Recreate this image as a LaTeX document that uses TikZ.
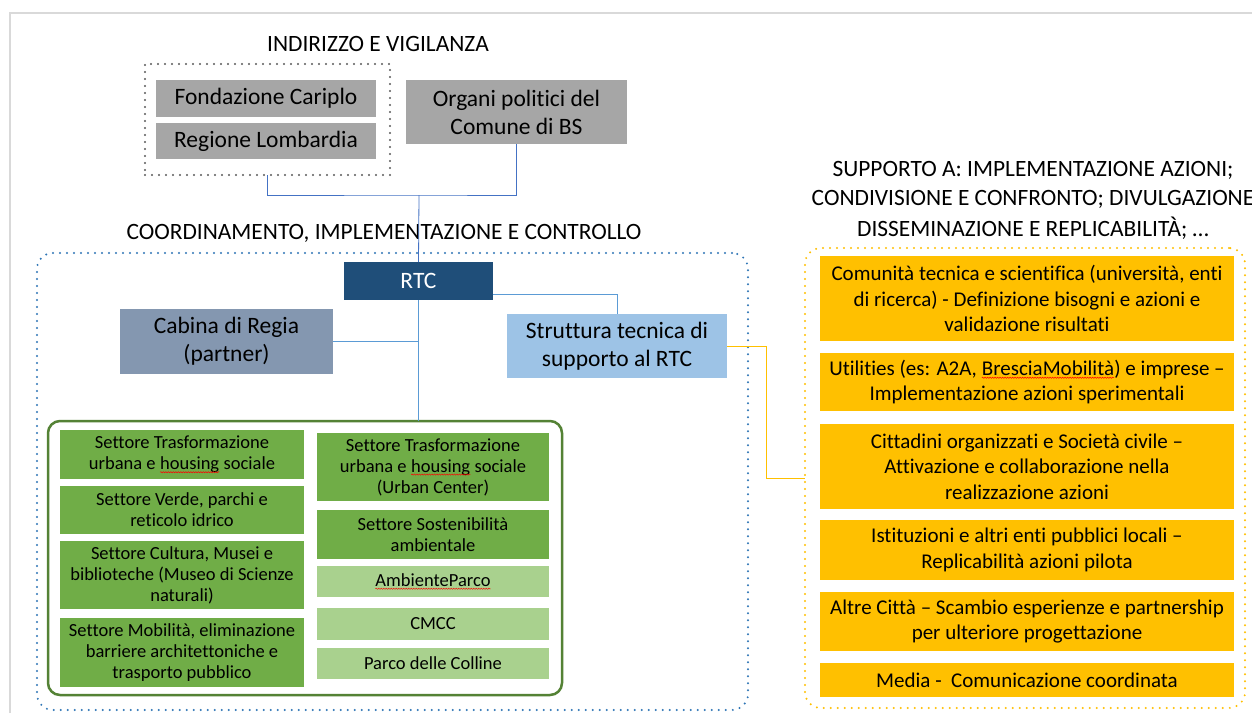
\documentclass[tikz,border=0pt]{standalone}
\usepackage{fontspec}
\setmainfont{Carlito}[Ligatures=NoCommon]
\usetikzlibrary{calc,decorations.pathmorphing}
\definecolor{frm}{HTML}{D9D9D9}
\definecolor{gbox}{HTML}{A6A6A6}
\definecolor{gdotc}{HTML}{595959}
\definecolor{rtcc}{HTML}{1F4E79}
\definecolor{cabc}{HTML}{8497B0}
\definecolor{strc}{HTML}{9DC3E6}
\definecolor{bdotc}{HTML}{2E75B6}
\definecolor{grd}{HTML}{70AD47}
\definecolor{grl}{HTML}{A9D18E}
\definecolor{grb}{HTML}{548235}
\definecolor{orc}{HTML}{FFC000}
\definecolor{lnA}{HTML}{4472C4}
\definecolor{lnB}{HTML}{5B9BD5}
\newcommand\sq[1]{\tikz[baseline=(sqw.base)]{\node[inner sep=0pt,outer sep=0pt,minimum width=0pt,minimum height=0pt,fill=none,draw=none,anchor=base] (sqw) at (0,0) {#1};\draw[red,line width=0.5pt,decorate,decoration={snake,amplitude=0.6pt,segment length=2.5pt}]([yshift=-2.5pt]sqw.base west)--([yshift=-2.5pt]sqw.base east);}}
\tikzset{
  box/.style={inner sep=0pt, outer sep=0pt, align=center, text=black},
  rect/.style n args={4}{minimum width={(#3-#1)*1pt}, minimum height={(#4-#2)*1pt}, at={({(#1+#3)/2},{(#2+#4)/2})}},
  bigf/.style={font=\fontsize{23.5}{28}\selectfont},
  hdr/.style={inner sep=0pt, font=\fontsize{23.4}{29}\selectfont, text=black},
  grf/.style={font=\fontsize{18.5}{21}\selectfont},
  orf/.style={font=\fontsize{21}{25.5}\selectfont},
  dotline/.style={line width=2.2pt, line cap=round, dash pattern=on 0pt off 7pt},
  conn/.style={line width=0.8pt},
}
\begin{document}
\begin{tikzpicture}[x=1pt,y=-1pt]
\useasboundingbox (0,0) rectangle (1252,713);
\fill[white] (0,0) rectangle (1252,713);
% frame
\draw[frm, line width=2pt] (10,713) -- (10,13) -- (1252,13);
% dotted containers
\node[box, dotline, draw=gdotc, rect={145}{64}{390}{175}] (ind) {};
\node[box, dotline, draw=bdotc, rounded corners=16pt, rect={37}{253}{748}{710}] (coo) {};
\node[box, dotline, draw=orc, rounded corners=16pt, rect={805}{248}{1245}{708}] (sup) {};
% headers
\node[hdr] (h1) at (378,44) {INDIRIZZO E VIGILANZA};
\node[hdr] (h2) at (384,233) {COORDINAMENTO, IMPLEMENTAZIONE E CONTROLLO};
\node[hdr] (h3a) at (1033,170) {SUPPORTO A: IMPLEMENTAZIONE AZIONI;};
\node[hdr] (h3b) at (1033,199) {CONDIVISIONE E CONFRONTO; DIVULGAZIONE};
\node[hdr] (h3c) at (1033,228) {DISSEMINAZIONE E REPLICABILITÀ; …};
% top boxes
\node[box, bigf, fill=gbox, rect={156}{80}{376}{117}] (fc) {Fondazione Cariplo};
\node[box, bigf, fill=gbox, rect={156}{123}{376}{159}] (rl) {Regione Lombardia};
\node[box, bigf, fill=gbox, rect={406}{80}{627}{144}] (org) {Organi politici del\\Comune di BS};
\node[box, bigf, fill=rtcc, text=white, rect={344}{262}{493}{300}] (rtc) {RTC};
\node[box, bigf, fill=cabc, rect={120}{309}{333}{374}] (cab) {Cabina di Regia\\(partner)};
\node[box, bigf, fill=strc, rect={507}{314}{727}{378}] (str) {Struttura tecnica di\\supporto al RTC};
% green container
\node[box, draw=grb, line width=2.5pt, rounded corners=12pt, rect={48}{421}{562}{695}] (grn) {};
\node[box, grf, fill=grd, rect={60}{430}{304}{479}] (g1) {Settore Trasformazione\\urbana e \sq{housing} sociale};
\node[box, grf, fill=grd, rect={60}{486}{304}{534}] (g2) {Settore Verde, parchi e\\reticolo idrico};
\node[box, grf, fill=grd, rect={60}{541}{304}{609}] (g3) {Settore Cultura, Musei e\\biblioteche (Museo di Scienze\\naturali)};
\node[box, grf, fill=grd, rect={60}{618}{304}{687}] (g4) {Settore Mobilità, eliminazione\\barriere architettoniche e\\trasporto pubblico};
\node[box, grf, fill=grd, rect={317}{433}{549}{501}] (g5) {Settore Trasformazione\\urbana e \sq{housing} sociale\\(Urban Center)};
\node[box, grf, fill=grd, rect={317}{510}{549}{559}] (g6) {Settore Sostenibilità\\ambientale};
\node[box, grf, fill=grl, rect={317}{566}{549}{597}] (g7) {\sq{AmbienteParco}};
\node[box, grf, fill=grl, rect={317}{608}{549}{640}] (g8) {CMCC};
\node[box, grf, fill=grl, rect={317}{648}{549}{679}] (g9) {Parco delle Colline};
% orange boxes
\node[box, orf, fill=orc, rect={820}{256}{1234}{341}] (o1) {Comunità tecnica e scientifica (università, enti\\di ricerca) - Definizione bisogni e azioni e\\validazione risultati};
\node[box, orf, fill=orc, rect={820}{353}{1234}{411}] (o2) {Utilities (es: A2A, \sq{BresciaMobilità}) e imprese –\\Implementazione azioni sperimentali};
\node[box, orf, fill=orc, rect={820}{424}{1234}{509}] (o3) {Cittadini organizzati e Società civile –\\Attivazione e collaborazione nella\\realizzazione azioni};
\node[box, orf, fill=orc, rect={820}{520}{1234}{580}] (o4) {Istituzioni e altri enti pubblici locali –\\Replicabilità azioni pilota};
\node[box, orf, fill=orc, rect={820}{592}{1234}{651}] (o5) {Altre Città – Scambio esperienze e partnership\\per ulteriore progettazione};
\node[box, orf, fill=orc, rect={820}{663}{1234}{697}] (o6) {Media -\ \ Comunicazione coordinata};
% connectors
\coordinate (j) at (419,195);
\draw[conn, lnA] (ind.south) |- (j) -| (org.south);
\draw[conn, lnA] (j) -- (rtc.north);
\draw[conn, lnB] ([yshift=6pt]rtc.south east) -| (str.north);
\draw[conn, lnB] (rtc.south) -- (rtc.south |- grn.north);
\draw[conn, lnB] (cab.east) -- (cab.east -| rtc.south);
\draw[conn, orc] (str.east) -| ($(str.east)!0.5!(sup.west)$) |- (sup.west);
\end{tikzpicture}
\end{document}
